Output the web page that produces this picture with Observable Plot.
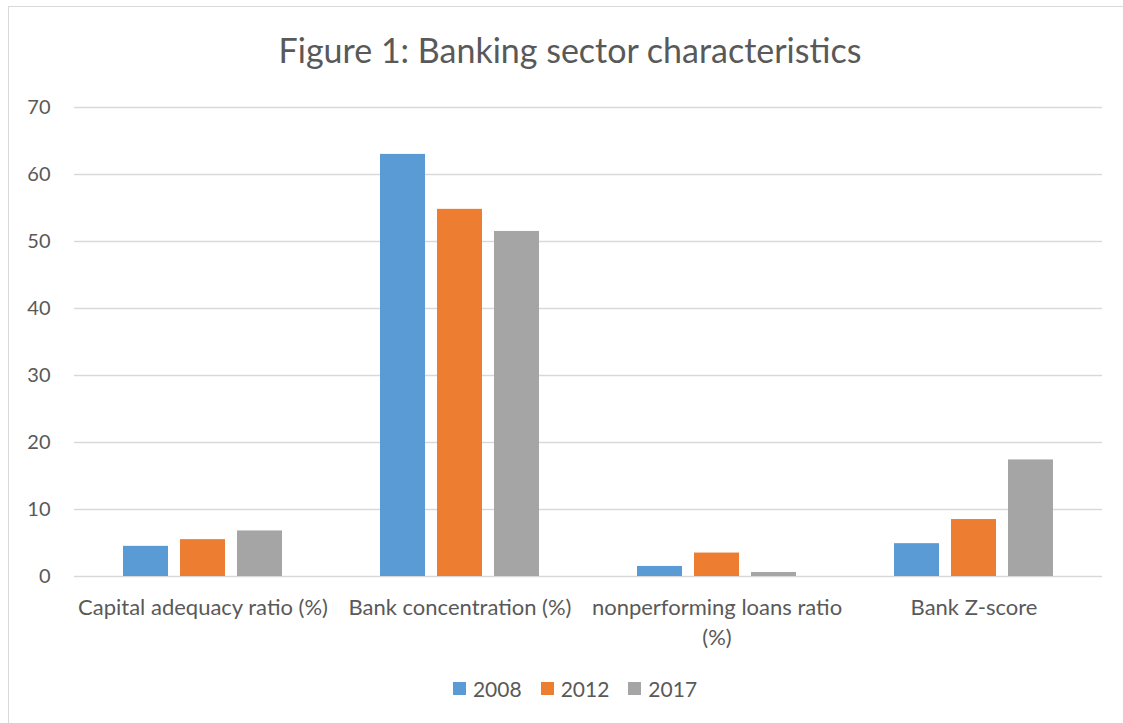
<!DOCTYPE html>
<html>
<head>
<meta charset="utf-8">
<script src="https://cdn.jsdelivr.net/npm/d3@7"></script>
<script src="https://cdn.jsdelivr.net/npm/@observablehq/plot@0.6"></script>
<style>
  html, body { margin: 0; padding: 0; background: #fff; overflow: hidden; }
  #frame { position: absolute; left: 8px; top: 6px; width: 1130px; height: 730px; border: 1.5px solid #d9d9d9; box-sizing: border-box; }
  #title { position: absolute; left: 0; width: 1140px; top: 29px; text-align: center; font-family: Lato, sans-serif; font-size: 34px; color: #595959; }
  #chart { position: absolute; left: 0; top: 80px; }
  #legend { position: absolute; left: 0; width: 1150px; top: 676px; display: flex; justify-content: center; gap: 19px; font-family: Lato, sans-serif; font-size: 21px; color: #595959; }
  .item { display: flex; align-items: center; gap: 7px; }
  .sw { width: 13px; height: 13px; display: inline-block; }
</style>
</head>
<body>
<div id="frame"></div>
<div id="title">Figure 1: Banking sector characteristics</div>
<div id="chart"></div>
<div id="legend"></div>
<script>
const categories = ["Capital adequacy ratio (%)", "Bank concentration (%)", "nonperforming loans ratio (%)", "Bank Z-score"];
const categoryTickLabels = ["Capital adequacy ratio (%)", "Bank concentration (%)", "nonperforming loans ratio\n(%)", "Bank Z-score"];
const years = ["2008", "2012", "2017"];
const values2008 = [4.5, 63.0, 1.5, 4.9];
const values2012 = [5.5, 54.8, 3.5, 8.5];
const values2017 = [6.8, 51.5, 0.6, 17.4];
const yTicks = [0, 10, 20, 30, 40, 50, 60, 70];
const colors = ["#5B9BD5", "#ED7D31", "#A5A5A5"];

const series = [values2008, values2012, values2017];
const data = categories.flatMap((c, i) => years.map((y, j) => ({category: c, year: y, value: series[j][i]})));

const chart = Plot.plot({
  width: 1123,
  height: 576,
  marginLeft: 72,
  marginRight: 20,
  marginTop: 27,
  marginBottom: 80,
  style: {fontFamily: "Lato, sans-serif", fontSize: "20px", color: "#595959", background: "transparent"},
  fx: {domain: categories, padding: 0, label: null},
  x: {domain: years, paddingInner: 0.217, paddingOuter: 0.85, axis: null},
  y: {domain: [0, 70], label: null},
  color: {domain: years, range: colors},
  marks: [
    Plot.gridY(yTicks, {stroke: "#d9d9d9", strokeOpacity: 1, strokeWidth: 1.3}),
    Plot.barY(data, {fx: "category", x: "year", y: "value", fill: "year"}),
    Plot.axisY(yTicks, {tickSize: 0, tickPadding: 24, label: null, fontSize: 20}),
    Plot.axisFx({anchor: "bottom", tickSize: 0, tickPadding: 17, label: null, fontSize: 22, lineHeight: 1.36,
      tickFormat: d => categoryTickLabels[categories.indexOf(d)]})
  ]
});
document.getElementById("chart").appendChild(chart);

const legend = document.getElementById("legend");
years.forEach((y, i) => {
  const item = document.createElement("span");
  item.className = "item";
  const sw = document.createElement("span");
  sw.className = "sw";
  sw.style.background = colors[i];
  const t = document.createElement("span");
  t.textContent = y;
  item.appendChild(sw);
  item.appendChild(t);
  legend.appendChild(item);
});
</script>
</body>
</html>
